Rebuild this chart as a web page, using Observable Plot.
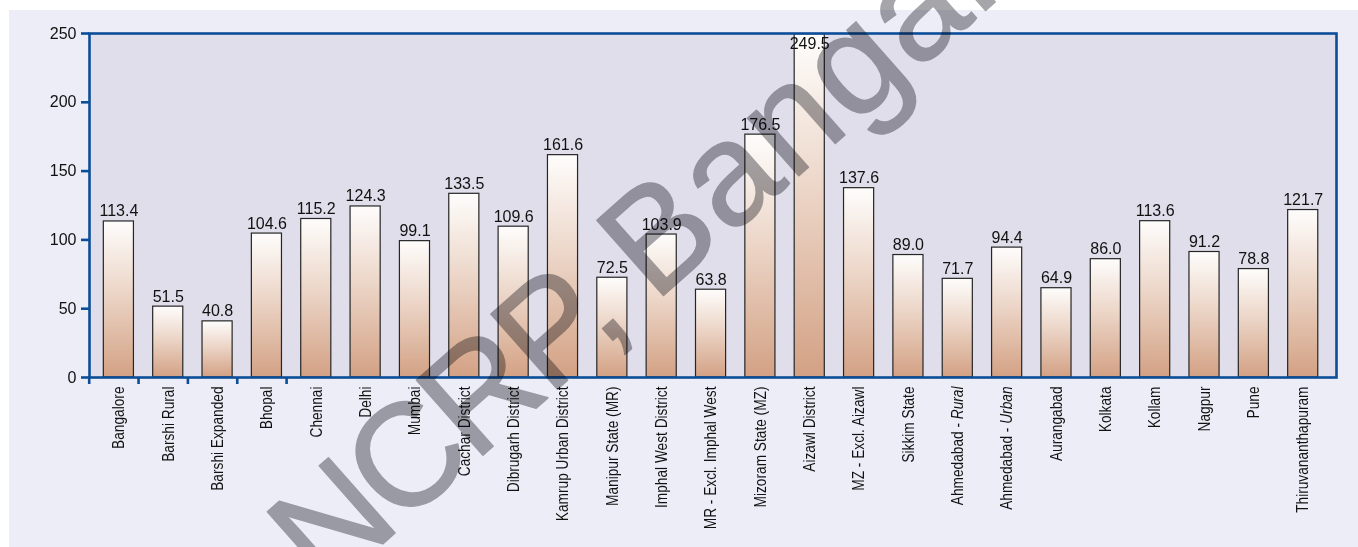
<!DOCTYPE html>
<html>
<head>
<meta charset="utf-8">
<script src="https://cdn.jsdelivr.net/npm/d3@7"></script>
<script src="https://cdn.jsdelivr.net/npm/@observablehq/plot@0.6"></script>
<style>
  html, body { margin: 0; padding: 0; background: #ffffff; }
  body { width: 1358px; height: 547px; position: relative; overflow: hidden; }
  #panel { position: absolute; left: 9px; top: 10px; width: 1349px; height: 537px; background: #ecedf7; }
  #wm { position: absolute; left: 0; top: 0; pointer-events: none; mix-blend-mode: multiply; }
</style>
</head>
<body>
<div id="panel"></div>
<svg id="wm" width="1358" height="547"></svg>
<script>
const categories = ["Bangalore","Barshi Rural","Barshi Expanded","Bhopal","Chennai","Delhi","Mumbai","Cachar District","Dibrugarh District","Kamrup Urban District","Manipur State (MR)","Imphal West District","MR - Excl. Imphal West","Mizoram State (MZ)","Aizawl District","MZ - Excl. Aizawl","Sikkim State","Ahmedabad - Rural","Ahmedabad - Urban","Aurangabad","Kolkata","Kollam","Nagpur","Pune","Thiruvananthapuram"];
const values = [113.4,51.5,40.8,104.6,115.2,124.3,99.1,133.5,109.6,161.6,72.5,103.9,63.8,176.5,249.5,137.6,89.0,71.7,94.4,64.9,86.0,113.6,91.2,78.8,121.7];
const yTicks = [0,50,100,150,200,250];
const tickedCategories = ["Bangalore","Barshi Rural","Barshi Expanded","Bhopal","Chennai"];
const italicParts = {"Ahmedabad - Rural": ["Ahmedabad - ", "Rural"], "Ahmedabad - Urban": ["Ahmedabad - ", "Urban"]};
const watermarkParts = ["NCRP, ", "Bangalore"];

const data = categories.map((c, i) => ({category: c, value: values[i]}));

const W = 1349, H = 537;
const mL = 80, mR = 22, mT = 23, mB = 170;
const pIn = 0.39, pOut = 0.33;
const step = (W - mL - mR) / (categories.length - pIn + 2 * pOut);

const blue = "#0c4d98";
const font = "'Liberation Sans', Arial, Helvetica, sans-serif";

function defs() {
  const ns = "http://www.w3.org/2000/svg";
  const d = document.createElementNS(ns, "defs");
  const g = document.createElementNS(ns, "linearGradient");
  g.setAttribute("id", "barGrad");
  g.setAttribute("x1", "0"); g.setAttribute("y1", "0");
  g.setAttribute("x2", "0"); g.setAttribute("y2", "1");
  [["0", "#fefdfc"], ["0.45", "#ecd6c8"], ["1", "#d3a184"]].forEach(([o, c]) => {
    const s = document.createElementNS(ns, "stop");
    s.setAttribute("offset", o); s.setAttribute("stop-color", c);
    g.appendChild(s);
  });
  d.appendChild(g);
  return d;
}

const plot = Plot.plot({
  width: W, height: H,
  marginLeft: mL, marginRight: mR, marginTop: mT, marginBottom: mB,
  style: {background: "transparent", fontFamily: font, fontSize: "16px", color: "#111"},
  x: {domain: categories, paddingInner: pIn, paddingOuter: pOut, align: 0.44, round: false, label: null},
  y: {domain: [0, 250], label: null},
  marks: [
    defs,
    Plot.frame({fill: "#dfdeea", stroke: "none"}),
    Plot.barY(data, {x: "category", y: "value", fill: "url(#barGrad)", stroke: "#262626", strokeWidth: 1.2}),
    Plot.ruleY(data, {x: "category", y: "value", stroke: "#7a7a7a", strokeWidth: 2}),
    Plot.text(data.filter(d => d.value < 240), {x: "category", y: "value", text: d => d.value.toFixed(1), lineAnchor: "bottom", dy: -5, fontSize: 16, fill: "#111"}),
    Plot.text(data.filter(d => d.value >= 240), {x: "category", y: "value", text: d => d.value.toFixed(1), lineAnchor: "top", dy: 3, fontSize: 16, fill: "#111"}),
    Plot.frame({stroke: blue, strokeWidth: 2.6}),
    Plot.ruleX(tickedCategories, {x: d => d, y1: 0, y2: 0, insetBottom: -7, dx: -step / 2 - 5, stroke: blue, strokeWidth: 2.6}),
    Plot.axisY({ticks: yTicks, tickSize: 8, tickPadding: 5, stroke: blue, strokeWidth: 2.6, fontSize: 16, fill: "#111", label: null}),
    Plot.axisX({tickSize: 0, tickPadding: 9, tickRotate: -90, fontSize: 16.5, fill: "#111", label: null})
  ]
});
document.getElementById("panel").appendChild(plot);

// condensed look for the rotated category labels, italic parts of two labels
plot.querySelectorAll('g[aria-label="x-axis tick label"] text').forEach(t => {
  const tr = t.getAttribute("transform") || "";
  t.setAttribute("transform", tr + " scale(0.83,1)");
  const parts = italicParts[t.textContent];
  if (parts) {
    t.textContent = "";
    const ns = "http://www.w3.org/2000/svg";
    const a = document.createElementNS(ns, "tspan"); a.textContent = parts[0];
    const b = document.createElementNS(ns, "tspan"); b.textContent = parts[1]; b.setAttribute("font-style", "italic");
    t.appendChild(a); t.appendChild(b);
  }
});

// watermark as real text
const wx = 325, wy = 595;
const wt = d3.select("#wm").append("text")
  .attr("x", wx).attr("y", wy)
  .attr("transform", `rotate(-41.5 ${wx} ${wy})`)
  .attr("font-family", font)
  .attr("font-size", 146)
  .attr("fill", "#a6a6aa")
  .attr("stroke", "#a6a6aa")
  .attr("stroke-width", 1.5)
  .attr("stroke-linejoin", "round");
wt.append("tspan").attr("letter-spacing", -6).text(watermarkParts[0]);
wt.append("tspan").attr("letter-spacing", 2).text(watermarkParts[1]);
</script>
</body>
</html>
